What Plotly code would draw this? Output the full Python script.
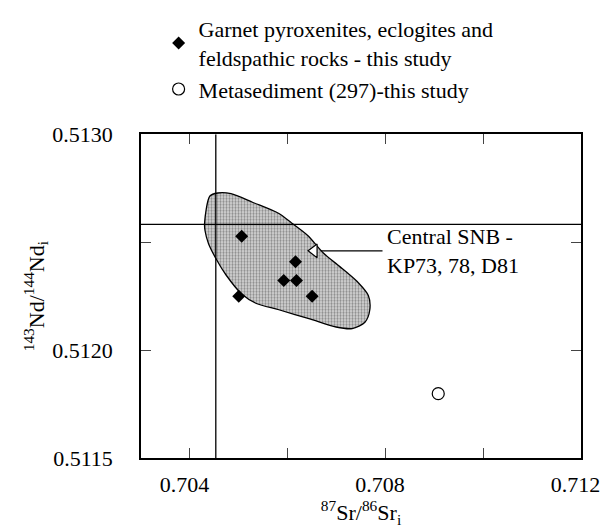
import plotly.graph_objects as go

# Data
sample_sr = [0.70506, 0.70616, 0.70592, 0.70618, 0.70650, 0.70500]
sample_nd = [0.512528, 0.512409, 0.512323, 0.512323, 0.512249, 0.512249]

metased_sr = [0.70908]
metased_nd = [0.511798]

field_sr = [0.70430, 0.70441, 0.70457, 0.70484, 0.70529, 0.70582, 0.70608, 0.70641,
            0.70673, 0.70712, 0.70745, 0.70765, 0.70768, 0.70758, 0.70732, 0.70699,
            0.70647, 0.70582, 0.70536, 0.70506, 0.70474, 0.70454, 0.70438, 0.70431, 0.70430]
field_nd = [0.512589, 0.512714, 0.512728, 0.512725, 0.512684, 0.512633, 0.512589, 0.512531,
            0.512450, 0.512377, 0.512311, 0.512253, 0.512187, 0.512129, 0.512100, 0.512107,
            0.512143, 0.512187, 0.512216, 0.512260, 0.512348, 0.512421, 0.512494, 0.512553, 0.512589]

ref_sr = 0.70453
ref_nd = 0.512583

pointer_sr = [0.70654]
pointer_nd = [0.512460]
leader_sr = [0.70667, 0.70794]
leader_nd = [0.512460, 0.512460]
label_sr = 0.70800
label_nd = 0.512460
label_text = "Central SNB -<br>KP73, 78, D81"

x_range = [0.703, 0.712]
y_range = [0.5115, 0.5130]
x_ticks = [0.704, 0.706, 0.708, 0.710, 0.712]
x_ticktext = ["0.704\u00a0\u00a0", "", "0.708\u00a0\u00a0", "", "0.712\u00a0\u00a0"]
y_ticks = [0.5115, 0.5120, 0.5125, 0.5130]
y_ticktext = ["0.5115", "0.5120", "", "0.5130"]

FONT = "Liberation Serif"

fig = go.Figure()

fig.add_trace(go.Scatter(
    x=field_sr, y=field_nd, mode="lines", fill="toself",
    line=dict(color="black", width=1.3, shape="spline", smoothing=0.8),
    fillcolor="rgba(0,0,0,0)",
    fillpattern=dict(shape=".", fgcolor="#3a3a3a", bgcolor="#d9d9d9", size=3, solidity=0.45),
    showlegend=False, hoverinfo="skip"))

fig.add_trace(go.Scatter(
    x=[ref_sr, ref_sr], y=y_range, mode="lines",
    line=dict(color="black", width=1.3), showlegend=False, hoverinfo="skip"))
fig.add_trace(go.Scatter(
    x=x_range, y=[ref_nd, ref_nd], mode="lines",
    line=dict(color="black", width=1.3), showlegend=False, hoverinfo="skip"))

fig.add_trace(go.Scatter(
    x=leader_sr, y=leader_nd, mode="lines",
    line=dict(color="black", width=1.2), showlegend=False, hoverinfo="skip"))
fig.add_trace(go.Scatter(
    x=pointer_sr, y=pointer_nd, mode="markers",
    marker=dict(symbol="triangle-left", size=12, color="white",
                line=dict(color="black", width=1.2)),
    showlegend=False, hoverinfo="skip"))

fig.add_trace(go.Scatter(
    x=sample_sr, y=sample_nd, mode="markers",
    name="Garnet pyroxenites, eclogites and<br>feldspathic rocks - this study",
    marker=dict(symbol="diamond", size=10, color="black")))
fig.add_trace(go.Scatter(
    x=metased_sr, y=metased_nd, mode="markers",
    name="Metasediment (297)-this study",
    marker=dict(symbol="circle-open", size=12, color="black", line=dict(width=1.2))))

fig.add_annotation(x=label_sr, y=label_nd, text=label_text, showarrow=False,
                   xanchor="left", yanchor="middle", align="left",
                   font=dict(family=FONT, size=22, color="black"))

fig.update_layout(
    width=615, height=528,
    margin=dict(l=133, r=23, t=108, b=78),
    plot_bgcolor="white", paper_bgcolor="white",
    font=dict(family=FONT, size=22, color="black"),
    legend=dict(x=0.04, y=1.015, xref="paper", yref="container", xanchor="left", yanchor="top",
                bgcolor="rgba(0,0,0,0)", font=dict(family=FONT, size=22),
                itemwidth=30, tracegroupgap=2),
    xaxis=dict(range=x_range, tickvals=x_ticks, ticktext=x_ticktext,
               ticks="inside", ticklen=10, tickwidth=1.2, mirror="ticks",
               showline=True, linecolor="black", linewidth=1.5,
               showgrid=False, zeroline=False, ticklabeloverflow="allow",
               ticklabelstandoff=6,
               tickfont=dict(family=FONT, size=22),
               title=dict(text="<sup>87</sup>Sr/<sup>86</sup>Sr<sub>i</sub>", standoff=4,
                          font=dict(family=FONT, size=22))),
    yaxis=dict(range=y_range, tickvals=y_ticks, ticktext=y_ticktext,
               ticks="inside", ticklen=10, tickwidth=1.2, mirror="ticks",
               showline=True, linecolor="black", linewidth=1.5,
               showgrid=False, zeroline=False, ticklabeloverflow="allow",
               ticklabelstandoff=22,
               tickfont=dict(family=FONT, size=22),
               title=dict(text="<sup>143</sup>Nd/<sup>144</sup>Nd<sub>i</sub>", standoff=2,
                          font=dict(family=FONT, size=22))),
)

fig.write_html("out.html")
